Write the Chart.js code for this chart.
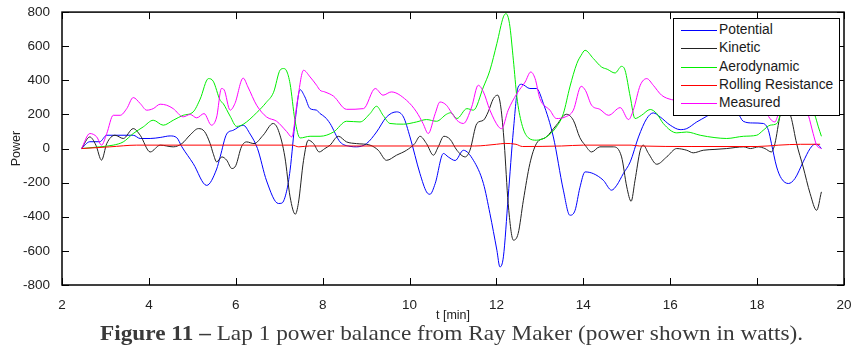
<!DOCTYPE html>
<html>
<head>
<meta charset="utf-8">
<script src="https://cdn.jsdelivr.net/npm/chart.js@4.4.1/dist/chart.umd.min.js"></script>
<style>
  html, body { margin: 0; padding: 0; background: #fff; }
  #wrap { position: relative; width: 864px; height: 358px; overflow: hidden; }
  #legend { position: absolute; left: 673px; top: 18px; width: 165px; height: 96px; border: 1px solid #000; background: #fff; font: 13.8px "Liberation Sans", Arial, sans-serif; color: #1a1a1a; }
  .row { position: absolute; left: 0; height: 18px; white-space: nowrap; }
  .row i { position: absolute; left: 7px; top: 9px; width: 36px; height: 1px; }
  .row span { position: absolute; left: 45px; top: 0; line-height: 18px; }
  #caption { position: absolute; top: 321px; left: 100px; line-height: 24px; white-space: nowrap; font-family: "Liberation Serif", serif; font-size: 21px; color: #3a3a3a; transform-origin: 0 0; }
</style>
</head>
<body>
<div id="wrap">
  <canvas id="grafico" width="864" height="358"></canvas>
  <div id="legend"></div>
  <div id="caption"><b>Figure 11 –</b> Lap 1 power balance from Ray Maker (power shown in watts).</div>
</div>
<script>
// values (t in minutes, power in watts)
const seriesNames = ["Potential", "Kinetic", "Aerodynamic", "Rolling Resistance", "Measured"];
const seriesColors = ["#0000ff", "#222222", "#00ee00", "#ff0000", "#ff00ff"];
const xTicks = [2, 4, 6, 8, 10, 12, 14, 16, 18, 20];
const yTicks = [-800, -600, -400, -200, 0, 200, 400, 600, 800];

const potT = [2.45, 2.64, 2.87, 3.03, 3.64, 3.8, 4.03, 4.26, 4.49, 4.64, 4.76, 5.02, 5.33, 5.56, 5.64, 5.79, 5.94, 6.17, 6.33, 6.5, 6.71, 6.98, 7.06, 7.17, 7.25, 7.37, 7.48, 7.59, 7.71, 7.86, 7.94, 8.05, 8.17, 8.4, 8.63, 8.78, 9.01, 9.24, 9.47, 9.7, 9.86, 10.01, 10.24, 10.39, 10.47, 10.59, 10.78, 10.89, 11.05, 11.24, 11.47, 11.7, 11.85, 12.01, 12.08, 12.16, 12.27, 12.39, 12.5, 12.58, 12.77, 12.92, 13.08, 13.31, 13.54, 13.69, 13.81, 13.92, 14.04, 14.23, 14.46, 14.65, 14.77, 14.92, 15.08, 15.27, 15.46, 15.61, 15.77, 16.0, 16.23, 16.38, 16.61, 16.84, 17.0, 17.3, 17.55, 17.68, 17.9, 18.14, 18.26, 18.33, 18.45, 18.56, 18.72, 18.87, 19.06, 19.22, 19.33, 19.41, 19.48];
const potV = [0, 40, 40, 78, 78, 59, 59, 65, 74, 64, 10, -88, -216, -120, -49, 85, 107, 137, 85, 0, -190, -322, -320, -250, -127, 170, 345, 303, 234, 225, 205, 185, 147, 39, 13, 10, 29, 97, 185, 215, 185, 68, -147, -254, -268, -205, -29, -49, -70, -10, -69, -205, -381, -596, -694, -635, -284, 107, 361, 377, 352, 352, 264, 68, -244, -391, -362, -230, -137, -147, -186, -244, -215, -147, -78, 68, 176, 209, 185, 137, 111, 117, 156, 189, 215, 230, 210, 160, 150, 147, 107, 29, -108, -176, -205, -176, -78, 0, 25, 20, 0];

const kinT = [2.45, 2.64, 2.78, 2.91, 3.03, 3.22, 3.41, 3.64, 3.8, 4.03, 4.26, 4.56, 4.76, 4.95, 5.14, 5.28, 5.41, 5.48, 5.56, 5.68, 5.79, 5.91, 6.0, 6.13, 6.25, 6.42, 6.63, 6.86, 6.98, 7.13, 7.25, 7.37, 7.44, 7.56, 7.67, 7.79, 7.92, 8.05, 8.17, 8.36, 8.55, 8.78, 9.09, 9.28, 9.47, 9.7, 9.93, 10.12, 10.24, 10.39, 10.55, 10.66, 10.79, 10.93, 11.09, 11.28, 11.39, 11.55, 11.7, 11.81, 11.93, 12.03, 12.1, 12.18, 12.27, 12.39, 12.5, 12.62, 12.77, 12.92, 13.15, 13.38, 13.61, 13.77, 13.92, 14.04, 14.19, 14.38, 14.69, 14.88, 15.0, 15.1, 15.19, 15.31, 15.38, 15.5, 15.69, 15.92, 16.15, 16.38, 16.53, 16.76, 17.03, 17.3, 17.69, 17.85, 18.03, 18.18, 18.33, 18.41, 18.53, 18.64, 18.78, 18.91, 19.06, 19.22, 19.37, 19.48];
const kinV = [0, 68, 20, -68, 29, 78, 59, 117, 78, -20, 20, 10, 29, 80, 117, 100, 29, -29, -78, -49, -68, -117, -100, 10, 39, 29, 78, 147, 107, -49, -283, -385, -322, -69, 49, 29, -20, 0, 20, 72, 39, 29, 20, -10, -69, -39, -10, 29, 72, 29, -39, 10, 72, 55, -10, -49, -10, 147, 166, 215, 293, 313, 244, 29, -322, -537, -498, -303, -88, 29, 68, 137, 201, 166, 64, 20, -20, 10, 10, -49, -225, -309, -186, -10, 20, -29, -92, -49, 0, -10, -25, -10, -5, 0, 10, 0, 10, 0, -20, 29, 195, 260, 185, 29, -108, -264, -362, -254];

const aeroT = [2.45, 2.87, 3.18, 3.41, 3.64, 3.87, 4.1, 4.33, 4.56, 4.79, 5.02, 5.18, 5.37, 5.48, 5.64, 5.71, 5.87, 6.02, 6.17, 6.48, 6.7, 6.87, 7.02, 7.1, 7.17, 7.25, 7.36, 7.48, 7.71, 7.94, 8.25, 8.55, 8.86, 9.09, 9.24, 9.39, 9.55, 9.86, 10.16, 10.39, 10.62, 10.85, 10.95, 11.09, 11.32, 11.47, 11.7, 11.85, 12.01, 12.16, 12.22, 12.3, 12.39, 12.47, 12.58, 12.73, 12.92, 13.15, 13.38, 13.54, 13.69, 13.85, 13.95, 14.04, 14.23, 14.42, 14.55, 14.73, 14.88, 14.96, 15.08, 15.19, 15.34, 15.54, 15.69, 15.84, 16.15, 16.38, 16.69, 17.03, 17.3, 17.69, 17.99, 18.14, 18.3, 18.45, 18.6, 18.9, 19.2, 19.33, 19.41, 19.48];
const aeroV = [0, 10, 20, 39, 88, 127, 166, 137, 166, 195, 215, 290, 410, 395, 283, 264, 190, 130, 142, 210, 270, 330, 460, 469, 455, 380, 170, 62, 72, 72, 97, 160, 156, 205, 248, 195, 147, 143, 156, 170, 160, 201, 210, 176, 234, 225, 361, 459, 616, 772, 791, 733, 518, 303, 147, 64, 49, 68, 127, 205, 361, 498, 547, 576, 528, 478, 465, 443, 482, 459, 303, 176, 195, 229, 205, 147, 92, 97, 78, 64, 59, 72, 78, 107, 137, 146, 250, 320, 260, 195, 127, 72];

const rollT = [2.45, 3.1, 3.72, 7.3, 7.45, 7.7, 10.0, 11.5, 12.0, 12.2, 12.45, 12.6, 13.5, 14.0, 15.1, 15.3, 16.5, 18.0, 18.5, 19.0, 19.45];
const rollV = [0, 10, 20, 20, 10, 15, 15, 15, 25, 30, 25, 12, 15, 20, 20, 15, 12, 12, 20, 25, 25];

const measT = [2.45, 2.64, 2.8, 2.91, 3.03, 3.18, 3.34, 3.49, 3.64, 3.8, 3.95, 4.1, 4.26, 4.41, 4.56, 4.79, 4.95, 5.1, 5.27, 5.44, 5.56, 5.67, 5.73, 5.87, 5.98, 6.17, 6.28, 6.48, 6.71, 6.94, 7.17, 7.29, 7.41, 7.56, 7.71, 7.86, 7.94, 8.05, 8.25, 8.55, 8.94, 9.21, 9.39, 9.58, 9.93, 10.16, 10.31, 10.43, 10.59, 10.7, 10.85, 10.93, 11.09, 11.24, 11.43, 11.58, 11.7, 11.85, 12.05, 12.12, 12.27, 12.47, 12.66, 12.79, 12.89, 13.0, 13.23, 13.38, 13.58, 13.77, 13.95, 14.05, 14.19, 14.38, 14.58, 14.85, 15.04, 15.15, 15.31, 15.46, 15.61, 15.8, 16.03, 16.3, 16.7, 17.1, 17.5, 17.9, 18.2, 18.33, 18.41, 18.48, 18.7, 19.0, 19.18, 19.29, 19.37, 19.48];
const measV = [0, 88, 68, 20, 88, 195, 195, 234, 299, 264, 225, 234, 260, 254, 234, 186, 200, 180, 205, 137, 185, 352, 345, 225, 264, 413, 361, 254, 185, 160, 100, 68, 264, 459, 420, 371, 342, 332, 307, 230, 234, 352, 313, 332, 283, 215, 147, 88, 205, 273, 254, 225, 166, 147, 244, 371, 332, 225, 127, 117, 225, 322, 390, 449, 410, 293, 225, 176, 185, 225, 365, 340, 254, 230, 195, 240, 170, 225, 371, 410, 371, 313, 287, 280, 270, 290, 280, 260, 210, 166, 156, 195, 300, 300, 195, 88, 20, 0];

const seriesT = [potT, kinT, aeroT, rollT, measT];
const seriesV = [potV, kinV, aeroV, rollV, measV];

const sans = "'Liberation Sans', Arial, sans-serif";
const tickFont = { family: sans, size: 13.5 };
const titleFont = { family: sans, size: 12.5 };

// MATLAB style box with inward tick marks on all four sides
const caixaEixos = {
  id: "caixaEixos",
  afterDatasetsDraw(chart) {
    const { ctx, chartArea: a, scales: { x, y } } = chart;
    const len = 7;
    ctx.save();
    ctx.strokeStyle = "#000";
    ctx.lineWidth = 1;
    ctx.beginPath();
    x.ticks.forEach((t) => {
      const px = Math.round(x.getPixelForValue(t.value)) + 0.5;
      ctx.moveTo(px, a.bottom); ctx.lineTo(px, a.bottom - len);
      ctx.moveTo(px, a.top); ctx.lineTo(px, a.top + len);
    });
    y.ticks.forEach((t) => {
      const py = Math.round(y.getPixelForValue(t.value)) + 0.5;
      ctx.moveTo(a.left, py); ctx.lineTo(a.left + len, py);
      ctx.moveTo(a.right, py); ctx.lineTo(a.right - len, py);
    });
    ctx.stroke();
    ctx.lineWidth = 1.5;
    ctx.strokeRect(a.left, a.top, a.right - a.left, a.bottom - a.top);
    ctx.restore();
  }
};

function criarLegenda() {
  const box = document.getElementById("legend");
  box.innerHTML = seriesNames.map((nome, i) =>
    `<div class="row" style="top:${Math.round(2 + i * 18.35)}px"><i style="background:${seriesColors[i]}"></i><span>${nome}</span></div>`
  ).join("");
}

function ajustarLegenda() {
  const cap = document.getElementById("caption");
  const largura = cap.scrollWidth;
  cap.style.transform = `scaleX(${(703 / largura).toFixed(4)})`;
}

new Chart(document.getElementById("grafico"), {
  type: "line",
  data: {
    datasets: seriesNames.map((nome, i) => ({
      label: nome,
      data: seriesT[i].map((t, k) => ({ x: t, y: seriesV[i][k] })),
      borderColor: seriesColors[i],
      borderWidth: 1,
      pointRadius: 0,
      fill: false,
      cubicInterpolationMode: "monotone",
      order: seriesNames.length - i
    }))
  },
  options: {
    responsive: false,
    animation: false,
    devicePixelRatio: 1,
    layout: { padding: { top: 12, right: 20, left: 0, bottom: 0 } },
    plugins: { legend: { display: false }, tooltip: { enabled: false } },
    scales: {
      x: {
        type: "linear",
        min: xTicks[0],
        max: xTicks[xTicks.length - 1],
        afterBuildTicks: (s) => { s.ticks = xTicks.map((v) => ({ value: v })); },
        afterFit: (s) => { s.height = 73; },
        grid: { display: false },
        border: { display: false },
        ticks: { font: tickFont, color: "#222", padding: 4, maxRotation: 0 },
        title: { display: true, text: "t [min]", font: titleFont, color: "#222", padding: { top: 0, bottom: 35 } }
      },
      y: {
        min: yTicks[0],
        max: yTicks[yTicks.length - 1],
        afterBuildTicks: (s) => { s.ticks = yTicks.map((v) => ({ value: v })); },
        afterFit: (s) => { s.width = 62; },
        grid: { display: false },
        border: { display: false },
        ticks: { font: tickFont, color: "#222", padding: 4 },
        title: { display: true, text: "Power", font: titleFont, color: "#222", padding: { top: 9, bottom: 0 } }
      }
    }
  },
  plugins: [caixaEixos]
});

criarLegenda();
ajustarLegenda();
</script>
</body>
</html>
